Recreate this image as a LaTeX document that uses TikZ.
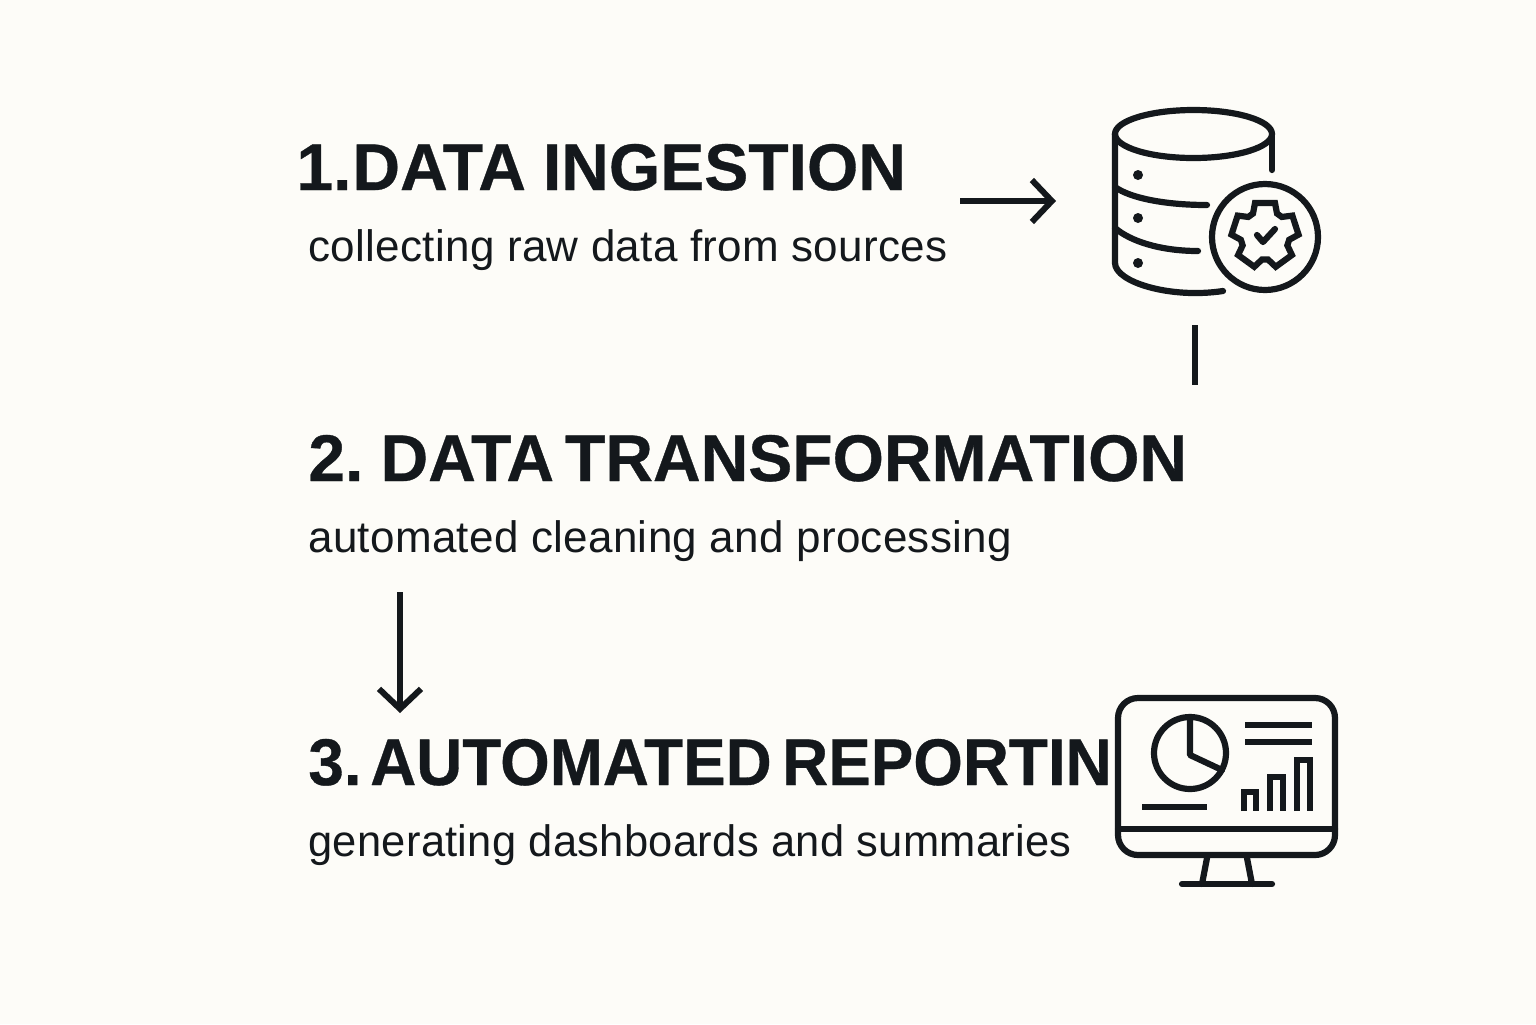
\documentclass[tikz,border=0pt]{standalone}
\usepackage{fontspec}
\setmainfont{Liberation Sans}
\newfontfamily\headfont[WordSpace=0.6,FakeBold=0.5]{Liberation Sans Bold}
\newfontfamily\capfont[LetterSpace=0.7]{Liberation Sans}
\usetikzlibrary{arrows.meta}
\definecolor{paper}{HTML}{FDFCF8}
\definecolor{ink}{HTML}{14181C}

\tikzset{
  heading/.style={anchor=base west,inner sep=0pt,text=ink,transform shape,font=\headfont\fontsize{33}{33}\selectfont},
  caption/.style={anchor=base west,inner sep=0pt,text=ink,transform shape,font=\capfont\fontsize{22}{22}\selectfont},
  flow/.style={ink,line width=3pt,-{Straight Barb[length=10pt,width=21pt,line width=3pt]}},
  icon/.style={ink,line width=3.1pt,line cap=round,line join=round},
}

\begin{document}
\begin{tikzpicture}[x=0.5pt,y=-0.5pt]
\useasboundingbox[fill=paper] (0,0) rectangle (1536,1024);

\node[heading] (head1) at (296,190) {1.\kern-5pt\ DATA\kern3pt\ INGESTION};
\node[caption] (text1) at (308,261) {collecting raw data from sources};
\node[heading] (head2) at (308,481) {2. DATA TRANSFORMATION};
\node[caption] (text2) at (308,552) {automated cleaning and processing};
\node[heading,xscale=0.966] (head3) at (308,785) {3.\kern-1pt\ AUTOMATED REPORTIN};
\node[caption,xscale=0.988] (text3) at (308,856) {generating dashboards and summaries};

%% Connectors
\coordinate (a1) at (960,201);
\coordinate (b1) at (1056,201);
\coordinate (a2) at (1195,325);
\coordinate (b2) at (1195,385);
\coordinate (a3) at (400,592);
\coordinate (b3) at (400,713);
\draw[flow] (a1) -- (b1);
\draw[ink,line width=3pt] (a2) -- (b2);
\draw[flow] (a3) -- (b3);

%% Database icon
\begin{scope}[icon]
  \draw (1193.5,134) ellipse (78.5 and 24);
  \draw (1272,134) -- (1272,170);
  \draw (1115,134) -- (1115,263) .. controls (1115,282) and (1170,299) .. (1223,291);
  \draw (1115,187) .. controls (1130,198) and (1165,205) .. (1207,205);
  \draw (1115,228) .. controls (1130,241) and (1160,251) .. (1198,251);
  \foreach \y in {175,218,263}
    \fill (1138,\y) circle (5);
  \draw (1265,237) circle (53);
  %% Gear
  \draw[shift={(1265,235)},line join=miter] (-10,-32)
    \foreach \a in {0,72,...,288} {
      -- ([rotate=-\a]-10,-32) -- ([rotate=-\a]10,-32) -- ([rotate=-\a]12,-21.5)
      -- ([rotate=-\a-72]-12,-21.5)
    } -- cycle;
  \draw (1257,235) -- (1263,242) -- (1275,229);
\end{scope}

%% Monitor icon
\begin{scope}[icon]
  \draw[rounded corners=10] (1118,698) rectangle (1335,855);
  \draw (1118,829) -- (1335,829);
  \draw (1190,753) circle (36);
  \draw (1190,717) -- (1190,755) -- (1222,770);
  \draw[line cap=butt] (1245,725) -- (1312,725);
  \draw[line cap=butt] (1245,742) -- (1312,742);
  \draw[line cap=butt] (1142,807) -- (1207,807);
  \draw[line cap=butt,line join=miter] (1244,811) |- (1256,792) -- (1256,811);
  \draw[line cap=butt,line join=miter] (1270,811) |- (1283,777) -- (1283,811);
  \draw[line cap=butt,line join=miter] (1297,811) |- (1310,760) -- (1310,811);
  \draw (1207,858) -- (1202,884);
  \draw (1247,858) -- (1252,884);
  \draw (1182,884) -- (1272,884);
\end{scope}
\end{tikzpicture}
\end{document}
